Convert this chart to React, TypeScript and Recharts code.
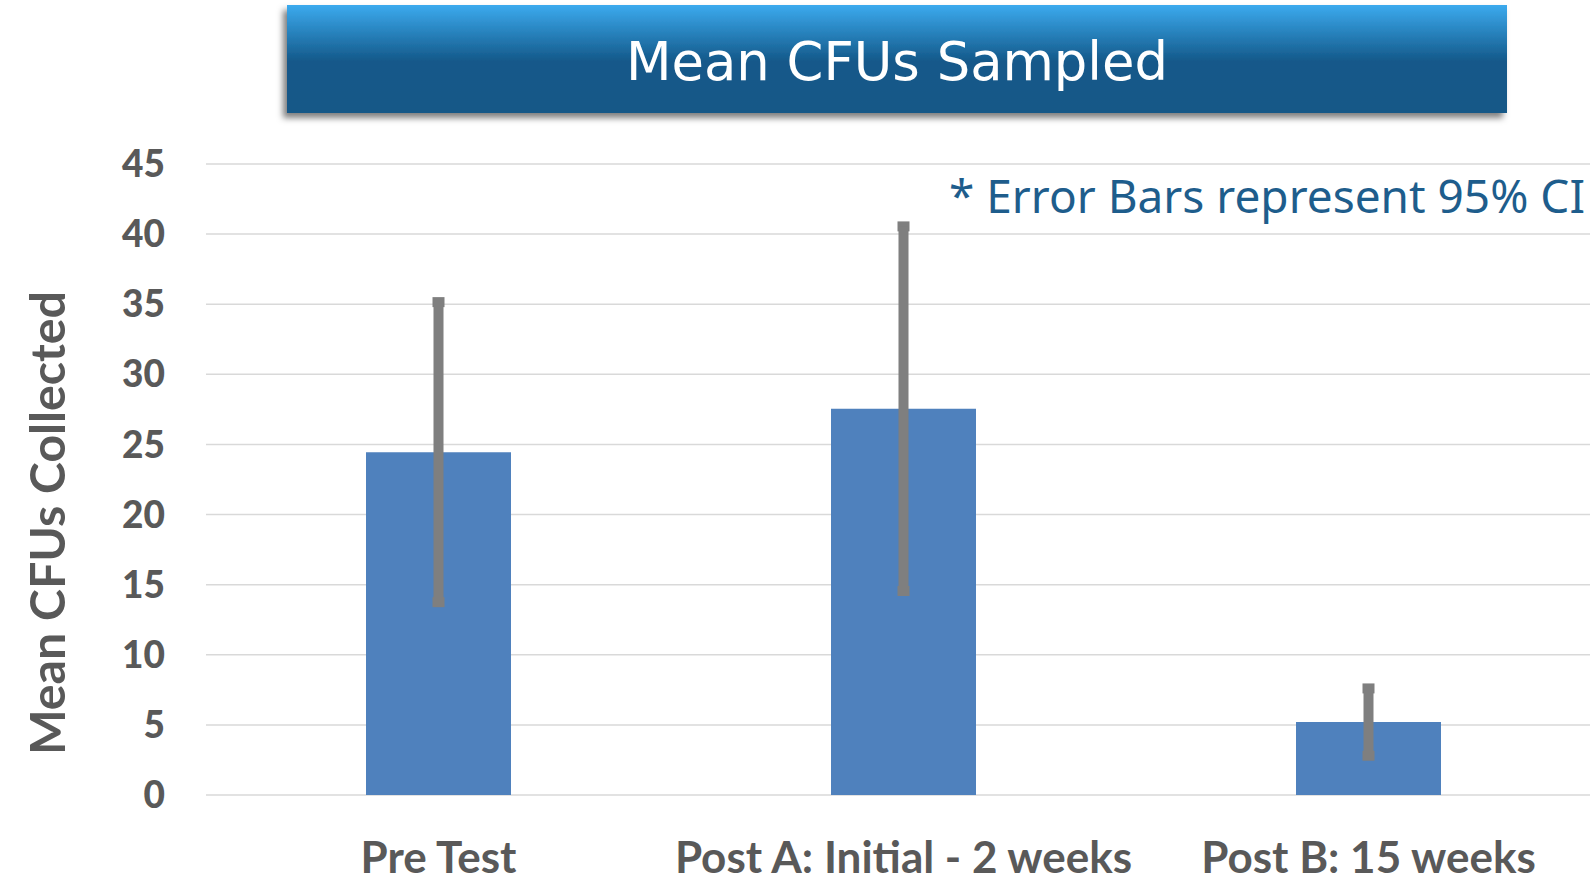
import { BarChart, Bar, XAxis, YAxis, CartesianGrid, ErrorBar } from "recharts";

const categories = ["Pre Test", "Post A: Initial - 2 weeks", "Post B: 15 weeks"];
const meanCfus = [24.45, 27.55, 5.2];
const ci95 = [10.7, 13.0, 2.4];
const yTicks = [0, 5, 10, 15, 20, 25, 30, 35, 40, 45];

const GREY = "#595959";
const BAR_BLUE = "#4F81BD";
const ERR_GREY = "#7F7F7F";

const data = categories.map((name, i) => ({
  name,
  mean: meanCfus[i],
  ci: ci95[i],
}));

export default function App() {
  return (
    <div
      style={{
        position: "fixed",
        top: 0,
        left: 0,
        width: 1590,
        height: 880,
        overflow: "hidden",
        background: "#ffffff",
      }}
    >
      <BarChart
        width={1601}
        height={880}
        data={data}
        margin={{ top: 164, right: 0, bottom: 0, left: 0 }}
        barSize={145}
      >
        <CartesianGrid vertical={false} stroke="#D9D9D9" strokeWidth={1.5} />
        <XAxis
          dataKey="name"
          height={85}
          axisLine={false}
          tickLine={false}
          tickSize={0}
          tickMargin={47}
          interval={0}
          tick={{ fontSize: 44, fontWeight: 700, fill: GREY, fontFamily: "Lato" }}
        />
        <YAxis
          width={206}
          domain={[0, 45]}
          ticks={yTicks}
          axisLine={false}
          tickLine={false}
          tickSize={0}
          tickMargin={41}
          tick={{ fontSize: 37, fontWeight: 900, fill: GREY, fontFamily: "Lato" }}
        />
        <Bar dataKey="mean" fill={BAR_BLUE} isAnimationActive={false}>
          <ErrorBar
            dataKey="ci"
            direction="y"
            width={6}
            strokeWidth={10}
            stroke={ERR_GREY}
            isAnimationActive={false}
          />
        </Bar>
      </BarChart>

      <svg
        width={1590}
        height={880}
        style={{ position: "absolute", top: 0, left: 0, pointerEvents: "none" }}
      >
        <defs>
          <linearGradient id="banner" x1="0" y1="0" x2="0" y2="1">
            <stop offset="0" stopColor="#3BAAEE" />
            <stop offset="0.52" stopColor="#14598A" />
            <stop offset="1" stopColor="#135987" />
          </linearGradient>
          <filter id="shadow" x="-5%" y="-20%" width="110%" height="150%">
            <feDropShadow dx={-4} dy={5} stdDeviation={3} floodColor="#000" floodOpacity={0.5} />
          </filter>
        </defs>
        <rect x={287} y={5} width={1220} height={108} fill="url(#banner)" filter="url(#shadow)" />
        <text
          x={897}
          y={80}
          textAnchor="middle"
          fill="#ffffff"
          fontFamily="DejaVu Sans"
          fontSize={54}
          textLength={542}
          lengthAdjust="spacingAndGlyphs"
        >
          Mean CFUs Sampled
        </text>

        <text
          x={949}
          y={213}
          fill="#1E5D8C"
          fontFamily="Noto Sans"
          fontSize={45}
          textLength={636}
          lengthAdjust="spacingAndGlyphs"
        >
          * Error Bars represent 95% CI
        </text>

        <text
          x={65}
          y={523}
          transform="rotate(-90 65 523)"
          textAnchor="middle"
          fill={GREY}
          fontFamily="Lato"
          fontWeight={700}
          fontSize={48}
          textLength={464}
          lengthAdjust="spacingAndGlyphs"
        >
          Mean CFUs Collected
        </text>
      </svg>
    </div>
  );
}
